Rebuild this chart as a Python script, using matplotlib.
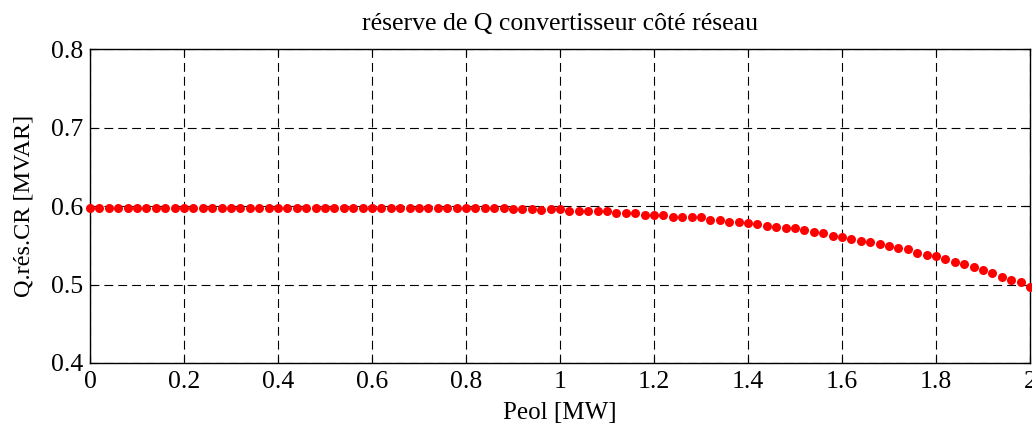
import matplotlib.pyplot as plt
import numpy as np

# active power of the wind farm, 0 to 2 MW in 0.02 MW steps
peol = np.linspace(0, 2, 101)

# reactive power reserve of the grid-side converter (MVAR)
q_res = [0.598] * 45 + [
    0.596, 0.596, 0.596, 0.595, 0.596, 0.596,            # 0.90 - 1.00
    0.5936, 0.5936, 0.5936, 0.5936, 0.5936,              # 1.02 - 1.10
    0.5915, 0.5915, 0.5915, 0.5885, 0.589,               # 1.12 - 1.20
    0.5885, 0.5864, 0.586, 0.5855, 0.5855,               # 1.22 - 1.30
    0.5822, 0.5822, 0.580, 0.580, 0.5778,                # 1.32 - 1.40
    0.5775, 0.5749, 0.5728, 0.5716, 0.5716,              # 1.42 - 1.50
    0.5694, 0.5673, 0.5652, 0.5622, 0.5601,              # 1.52 - 1.60
    0.558, 0.5558, 0.5537, 0.5512, 0.549,                # 1.62 - 1.70
    0.5469, 0.5448, 0.5405, 0.5376, 0.5363,              # 1.72 - 1.80
    0.5321, 0.529, 0.5257, 0.5227, 0.5185,               # 1.82 - 1.90
    0.5143, 0.510, 0.5057, 0.5028, 0.4965,               # 1.92 - 2.00
]

plt.rcParams['font.family'] = ['Liberation Serif', 'DejaVu Serif']

fig = plt.figure(figsize=(10.32, 4.34), dpi=100)
ax = fig.add_axes([0.0872, 0.1636, 0.9108, 0.7234])

ax.plot(peol, q_res, 'o', color='red', markersize=6.5, markeredgewidth=0, clip_on=False, zorder=3)

ax.set_xlim(0, 2)
ax.set_ylim(0.4, 0.8)
ax.set_xticks(np.arange(0, 2.01, 0.2))
ax.set_yticks([0.4, 0.5, 0.6, 0.7, 0.8])
ax.set_xticklabels(['0', '0.2', '0.4', '0.6', '0.8', '1', '1.2', '1.4', '1.6', '1.8', '2'])
ax.set_yticklabels(['0.4', '0.5', '0.6', '0.7', '0.8'])
ax.tick_params(direction='in', length=5, width=0.8, labelsize=18.5, top=True, right=True)
ax.tick_params(axis='x', pad=6)
ax.tick_params(axis='y', pad=5)
ax.grid(True, color='black', linestyle=(0, (8, 4.5)), linewidth=0.8)
for s in ax.spines.values():
    s.set_linewidth(1.0)

ax.set_xlabel('Peol [MW]', fontsize=18, labelpad=6)
ax.set_ylabel('Q.rés.CR [MVAR]', fontsize=17.5, labelpad=12)
ax.set_title('réserve de Q convertisseur côté réseau', fontsize=18.5, pad=14)

fig.savefig('out.png', dpi=100)
